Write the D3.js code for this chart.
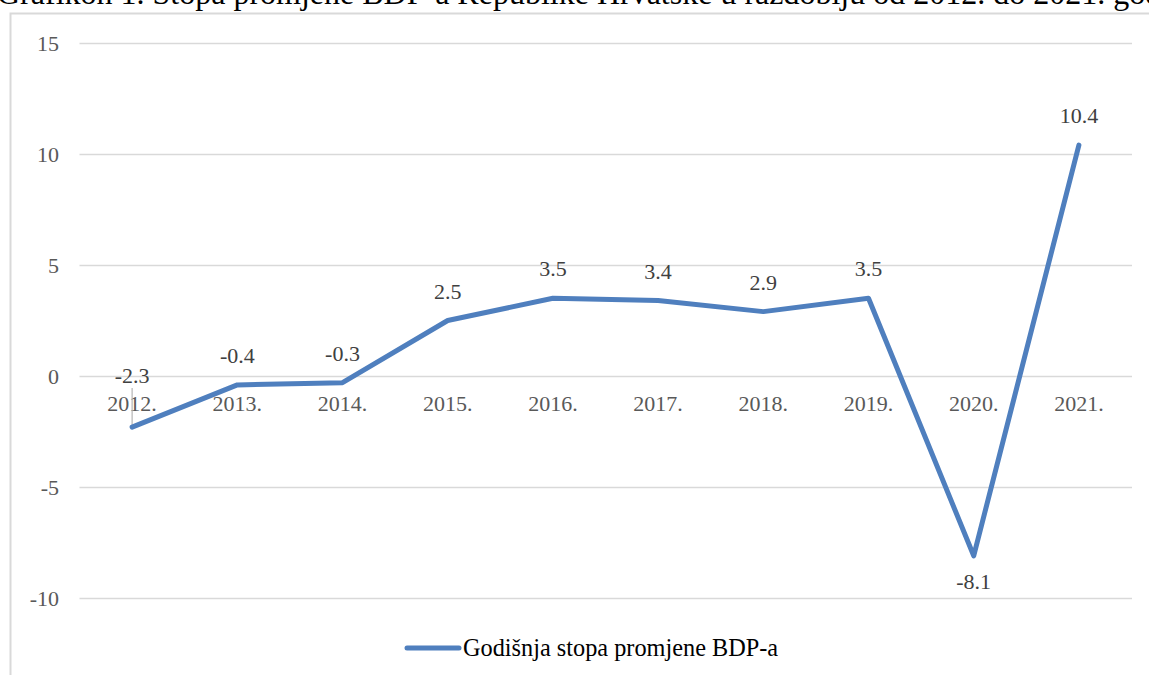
<!DOCTYPE html>
<html>
<head>
<meta charset="utf-8">
<script src="https://cdn.jsdelivr.net/npm/d3@7"></script>
<style>
  body { margin: 0; background: #fff; overflow: hidden; }
  svg text { font-family: "Liberation Serif", serif !important; }
</style>
</head>
<body>
<script>
// data
const years = ['2012.', '2013.', '2014.', '2015.', '2016.', '2017.', '2018.', '2019.', '2020.', '2021.'];
const rates = [-2.3, -0.4, -0.3, 2.5, 3.5, 3.4, 2.9, 3.5, -8.1, 10.4];
const yTicks = [-10, -5, 0, 5, 10, 15];
const seriesName = 'Godišnja stopa promjene BDP-a';
const title = 'Grafikon 1. Stopa promjene BDP-a Republike Hrvatske u razdoblju od 2012. do 2021. godine';

const W = 1149, H = 675;
const serif = '"Liberation Serif", serif';
const fmt = v => String(v).replace('\u2212', '-');

const svg = d3.select('body').append('svg')
  .attr('width', W)
  .attr('height', H);

// title, cut off at the top like the source
svg.append('text')
  .attr('x', -3)
  .attr('y', 4)
  .style('font-family', serif)
  .style('font-size', '32px')
  .attr('fill', '#000')
  .text(title);

// chart frame
svg.append('rect')
  .attr('x', 10.5)
  .attr('y', 13.5)
  .attr('width', W + 20)
  .attr('height', H)
  .attr('fill', 'none')
  .attr('stroke', '#d9d9d9')
  .attr('stroke-width', 2);

const x = d3.scaleBand()
  .domain(years)
  .range([79.5, 1131.5]);

const y = d3.scaleLinear()
  .domain([-10, 15])
  .range([598, 43]);

// gridlines
svg.append('g')
  .selectAll('line')
  .data(yTicks)
  .join('line')
  .attr('x1', 79.5)
  .attr('x2', 1132)
  .attr('y1', d => Math.round(y(d)) + 0.5)
  .attr('y2', d => Math.round(y(d)) + 0.5)
  .attr('stroke', '#d9d9d9')
  .attr('stroke-width', 1.5);

// y axis labels
const yAxis = svg.append('g')
  .attr('transform', 'translate(59,0)')
  .call(d3.axisLeft(y).tickValues(yTicks).tickSize(0).tickPadding(0).tickFormat(d => fmt(d)));
yAxis.attr('font-family', serif);
yAxis.select('.domain').remove();
yAxis.selectAll('text')
  .style('font-family', serif)
  .style('font-size', '22px')
  .attr('fill', '#595959');

// x axis labels on the zero line
const xAxis = svg.append('g')
  .attr('transform', `translate(0,${y(0)})`)
  .call(d3.axisBottom(x).tickSize(0).tickPadding(19));
xAxis.attr('font-family', serif);
xAxis.select('.domain').remove();
xAxis.selectAll('text')
  .style('font-family', serif)
  .style('font-size', '22px')
  .attr('fill', '#595959');

const cx = d => x(d) + x.bandwidth() / 2;

// leader line for first label
svg.append('line')
  .attr('x1', cx(years[0]))
  .attr('x2', cx(years[0]))
  .attr('y1', y(0) + 12)
  .attr('y2', y(rates[0]))
  .attr('stroke', '#a6a6a6')
  .attr('stroke-width', 1);

// series line
const line = d3.line()
  .x((d, i) => cx(years[i]))
  .y(d => y(d));

svg.append('path')
  .datum(rates)
  .attr('d', line)
  .attr('fill', 'none')
  .attr('stroke', '#4f7fbe')
  .attr('stroke-width', 5)
  .attr('stroke-linejoin', 'round')
  .attr('stroke-linecap', 'round');

// data labels
svg.append('g')
  .selectAll('text')
  .data(rates)
  .join('text')
  .attr('x', (d, i) => cx(years[i]))
  .attr('y', (d, i) => {
    if (i === 0) return y(0) + 7;
    if (i === 8) return y(d) + 33;
    return y(d) - 22;
  })
  .attr('text-anchor', 'middle')
  .style('font-family', serif)
  .style('font-size', '22px')
  .attr('fill', '#404040')
  .text(d => d.toFixed(1));

// legend
const lg = svg.append('g');
lg.append('line')
  .attr('x1', 407)
  .attr('x2', 459)
  .attr('y1', 648)
  .attr('y2', 648)
  .attr('stroke', '#4f7fbe')
  .attr('stroke-width', 5)
  .attr('stroke-linecap', 'round');
lg.append('text')
  .attr('x', 463)
  .attr('y', 656)
  .style('font-family', serif)
  .style('font-size', '24.3px')
  .attr('fill', '#000')
  .text(seriesName);
</script>
</body>
</html>
